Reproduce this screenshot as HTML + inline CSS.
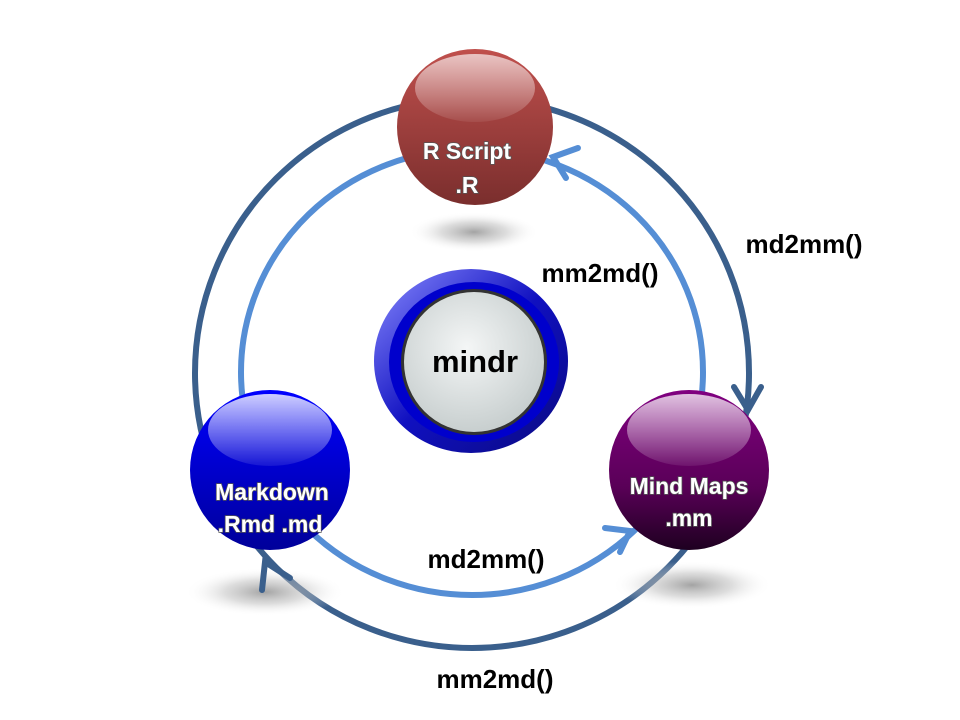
<!DOCTYPE html>
<html><head><style>body{margin:0;background:#fff}svg{display:block}</style></head><body>
<svg width="960" height="720" viewBox="0 0 960 720" xmlns="http://www.w3.org/2000/svg">
<defs>
<radialGradient id="sh" cx="50%" cy="50%" r="50%"><stop offset="0" stop-color="#999" stop-opacity="0.9"/><stop offset="0.5" stop-color="#bbb" stop-opacity="0.5"/><stop offset="1" stop-color="#fff" stop-opacity="0"/></radialGradient>
<linearGradient id="gr" x1="0" y1="0" x2="0" y2="1"><stop offset="0" stop-color="#c0504d"/><stop offset="1" stop-color="#7a2e2d"/></linearGradient>
<linearGradient id="gb" x1="0" y1="0" x2="0" y2="1"><stop offset="0" stop-color="#0000ff"/><stop offset="1" stop-color="#00009a"/></linearGradient>
<linearGradient id="gp" x1="0" y1="0" x2="0" y2="1"><stop offset="0" stop-color="#800080"/><stop offset="0.6" stop-color="#5a0058"/><stop offset="1" stop-color="#1e0020"/></linearGradient>
<linearGradient id="hl" x1="0" y1="0" x2="0" y2="1"><stop offset="0" stop-color="#fff" stop-opacity="0.95"/><stop offset="1" stop-color="#fff" stop-opacity="0.1"/></linearGradient>
<linearGradient id="ring" x1="0" y1="0" x2="1" y2="1"><stop offset="0" stop-color="#8a8cff"/><stop offset="0.5" stop-color="#1010c0"/><stop offset="1" stop-color="#0a0a80"/></linearGradient>
<radialGradient id="gray" cx="45%" cy="40%" r="60%"><stop offset="0" stop-color="#f4f6f6"/><stop offset="1" stop-color="#c8cfcf"/></radialGradient>
</defs>
<ellipse cx="472" cy="373" rx="277" ry="275" fill="none" stroke="#3a5f8c" stroke-width="6"/>
<ellipse cx="472" cy="372" rx="231" ry="223" fill="none" stroke="#558ed5" stroke-width="6"/>
<ellipse cx="474" cy="232" rx="65" ry="20" fill="url(#sh)"/>
<ellipse cx="265" cy="592" rx="80" ry="24" fill="url(#sh)"/>
<ellipse cx="692" cy="585" rx="80" ry="24" fill="url(#sh)"/>
<g fill="none" stroke-width="6" stroke-linecap="round">
<polyline points="578,148 553,157 566,178" stroke="#558ed5"/>
<polyline points="734,387 748,410 761,387" stroke="#3a5f8c"/>
<polyline points="605,528 630,531 620,552" stroke="#558ed5"/>
<polyline points="290,578 265,562 262,590" stroke="#3a5f8c"/>
</g>
<circle cx="475" cy="127" r="78" fill="url(#gr)"/>
<ellipse cx="475" cy="88" rx="60" ry="34" fill="url(#hl)" opacity="0.7"/>
<ellipse cx="471" cy="361" rx="97" ry="92" fill="url(#ring)"/>
<ellipse cx="474" cy="362" rx="85" ry="80" fill="#0000cc"/>
<circle cx="474" cy="362" r="73" fill="#333"/>
<circle cx="474" cy="362" r="70" fill="url(#gray)"/>
<circle cx="270" cy="470" r="80" fill="url(#gb)"/>
<ellipse cx="270" cy="430" rx="62" ry="36" fill="url(#hl)" opacity="0.85"/>
<circle cx="689" cy="470" r="80" fill="url(#gp)"/>
<ellipse cx="689" cy="430" rx="62" ry="36" fill="url(#hl)" opacity="0.8"/>
<g font-family="Liberation Sans, sans-serif" font-weight="bold" text-anchor="middle">
<g fill="#fff" font-size="23" style="paint-order:stroke" stroke="#555" stroke-width="1.5">
<text x="467" y="159">R Script</text><text x="467" y="193">.R</text>
<text x="272" y="500">Markdown</text><text x="270" y="532">.Rmd .md</text>
<text x="689" y="494">Mind Maps</text><text x="689" y="526">.mm</text>
</g>
<g fill="#000" font-size="26">
<text x="475" y="372" font-size="31">mindr</text>
<text x="804" y="253">md2mm()</text>
<text x="600" y="282">mm2md()</text>
<text x="486" y="568">md2mm()</text>
<text x="495" y="688">mm2md()</text>
</g></g>
</svg>
</body></html>
